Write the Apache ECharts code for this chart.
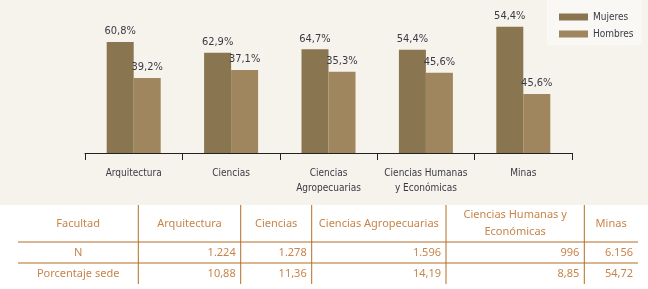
<!DOCTYPE html>
<html>
<head>
<meta charset="utf-8">
<script src="https://cdn.jsdelivr.net/npm/echarts@6/dist/echarts.min.js"></script>
<style>
html,body{margin:0;padding:0;background:#ffffff;}
#chart{width:648px;height:289px;}
</style>
</head>
<body>
<div id="chart"></div>
<script>
// ---- data ----
const categories = ['Arquitectura', 'Ciencias', 'Ciencias\nAgropecuarias', 'Ciencias Humanas\ny Económicas', 'Minas'];
const seriesNames = ['Mujeres', 'Hombres'];
// printed labels
const mujeresLabels = ['60,8%', '62,9%', '64,7%', '54,4%', '54,4%'];
const hombresLabels = ['39,2%', '37,1%', '35,3%', '45,6%', '45,6%'];
// bar heights as drawn in the picture (same units as the labels)
const mujeresBars = [60.8, 54.9, 56.8, 56.6, 69.2];
const hombresBars = [41.1, 45.5, 44.5, 44.0, 32.3];

// table
const tableHeaders = ['Facultad', 'Arquitectura', 'Ciencias', 'Ciencias Agropecuarias', 'Ciencias Humanas y\nEconómicas', 'Minas'];
const rowLabels = ['N', 'Porcentaje sede'];
const nValues = ['1.224', '1.278', '1.596', '996', '6.156'];
const pctValues = ['10,88', '11,36', '14,19', '8,85', '54,72'];

// ---- layout ----
const chartFont = '"DejaVu Sans Condensed", "DejaVu Sans", sans-serif';
const tableFont = '"Noto Sans", "Open Sans", sans-serif';
const colEdges = [18, 138.3, 240.7, 311.7, 446, 584.3, 638];
const rowEdges = [205, 242, 263, 284];
const lineColor = '#b56d24';
const tableText = '#c7844a';

const chart = echarts.init(document.getElementById('chart'), null, {renderer: 'canvas'});

const graphics = [];
graphics.push({type: 'rect', z: -10, silent: true, shape: {x: 0, y: 0, width: 648, height: 205}, style: {fill: '#f6f3ec'}});
graphics.push({type: 'rect', z: -9, silent: true, shape: {x: 547, y: 0, width: 95, height: 45}, style: {fill: '#faf8f4'}});

// table lines
[rowEdges[1], rowEdges[2]].forEach(y => {
  graphics.push({type: 'line', silent: true, shape: {x1: colEdges[0], y1: y, x2: colEdges[colEdges.length - 1], y2: y}, style: {stroke: lineColor, lineWidth: 1}});
});
for (let i = 1; i < colEdges.length - 1; i++) {
  graphics.push({type: 'line', silent: true, shape: {x1: colEdges[i], y1: rowEdges[0], x2: colEdges[i], y2: rowEdges[3]}, style: {stroke: lineColor, lineWidth: 1}});
}
// header
tableHeaders.forEach((h, i) => {
  graphics.push({type: 'text', silent: true,
    x: (colEdges[i] + colEdges[i + 1]) / 2, y: (rowEdges[0] + rowEdges[1]) / 2,
    style: {text: h, fill: tableText, font: '11px ' + tableFont, align: 'center', verticalAlign: 'middle', lineHeight: 17}});
});
// rows
const rows = [nValues, pctValues];
rows.forEach((vals, r) => {
  const cy = (rowEdges[r + 1] + rowEdges[r + 2]) / 2;
  graphics.push({type: 'text', silent: true, x: (colEdges[0] + colEdges[1]) / 2, y: cy,
    style: {text: rowLabels[r], fill: tableText, font: '11px ' + tableFont, align: 'center', verticalAlign: 'middle'}});
  vals.forEach((v, i) => {
    graphics.push({type: 'text', silent: true, x: colEdges[i + 2] - 5, y: cy,
      style: {text: v, fill: tableText, font: '11px ' + tableFont, align: 'right', verticalAlign: 'middle'}});
  });
});

const labelStyle = (labels) => ({
  show: true, position: 'top', distance: 5,
  formatter: p => labels[p.dataIndex],
  color: '#3a3a45', fontFamily: chartFont, fontSize: 11
});

chart.setOption({
  animation: false,
  backgroundColor: 'transparent',
  grid: {left: 85, right: 76, top: 25.2, bottom: 136},
  legend: {
    orient: 'vertical', left: 554, top: 7, itemWidth: 29, itemHeight: 7, itemGap: 7,
    icon: 'rect', data: seriesNames,
    textStyle: {fontFamily: chartFont, fontSize: 10, color: '#3a3a45'}
  },
  xAxis: {
    type: 'category', data: categories,
    axisLine: {lineStyle: {color: '#222222', width: 1}},
    axisTick: {show: true, length: 7, lineStyle: {color: '#222222'}},
    axisLabel: {fontFamily: chartFont, fontSize: 10, color: '#3a3a45', margin: 13, lineHeight: 15, interval: 0}
  },
  yAxis: {type: 'value', min: 0, max: 70, show: false, splitLine: {show: false}},
  series: [
    {name: seriesNames[0], type: 'bar', data: mujeresBars, barWidth: 27, barGap: '0%',
     itemStyle: {color: '#8a7551'}, label: labelStyle(mujeresLabels)},
    {name: seriesNames[1], type: 'bar', data: hombresBars, barWidth: 27, barGap: '0%',
     itemStyle: {color: '#9f865e'}, label: labelStyle(hombresLabels)}
  ],
  graphic: graphics
});
</script>
</body>
</html>
